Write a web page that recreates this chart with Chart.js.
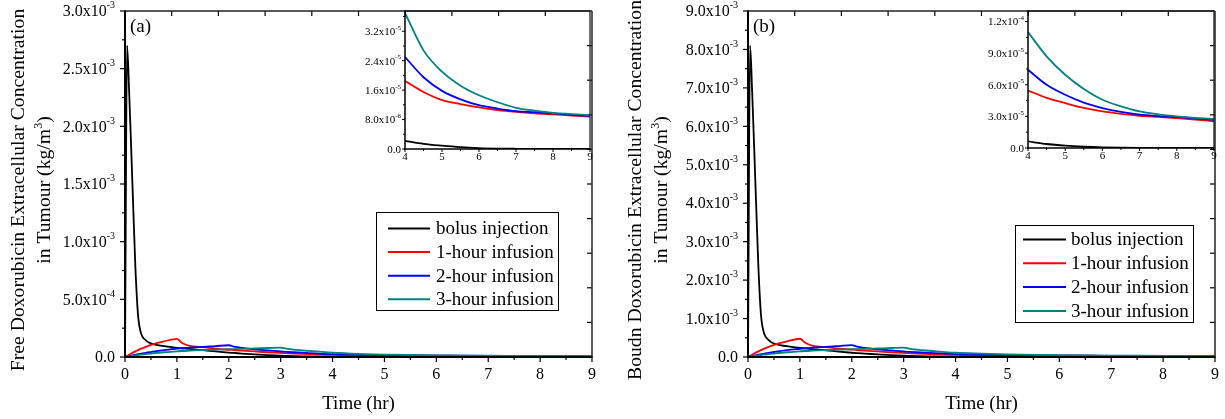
<!DOCTYPE html>
<html>
<head>
<meta charset="utf-8">
<script src="https://cdn.jsdelivr.net/npm/chart.js@4.4.1/dist/chart.umd.min.js"></script>
<style>
  body { margin: 0; background: #fff; }
  #wrap { position: relative; width: 1225px; height: 419px; overflow: hidden; background: #fff; }
  canvas { position: absolute; top: 0; }
</style>
</head>
<body>
<div id="wrap">
  <canvas id="mainA" width="612" height="419" style="left:0px"></canvas>
  <canvas id="mainB" width="613" height="419" style="left:612px"></canvas>
  <canvas id="insetA" width="250" height="170" style="left:350px"></canvas>
  <canvas id="insetB" width="250" height="170" style="left:973px"></canvas>
</div>
<script>
// time axis (hr), shared by every series
const timeHr = [0, 0.04, 0.08, 0.12, 0.16, 0.2, 0.25, 0.3, 0.4, 0.5, 0.75, 1, 1.1, 1.25, 1.5, 1.75,
  2, 2.1, 2.25, 2.5, 2.75, 3, 3.1, 3.25, 3.5, 4, 4.5, 5, 5.5, 6, 6.5, 7, 7.5, 8, 8.5, 9];

const seriesNames = ['bolus injection', '1-hour infusion', '2-hour infusion', '3-hour infusion'];
const seriesColors = ['#000000', '#ff0000', '#0000ff', '#008080'];

// (a) free doxorubicin, kg/m^3
const freeBolus = [0, 2.70e-3, 2.30e-3, 1.80e-3, 1.28e-3, 0.78e-3, 0.37e-3, 0.22e-3, 0.145e-3, 0.118e-3, 0.095e-3,
  0.08e-3, 0.076e-3, 0.07e-3, 0.06e-3, 0.048e-3, 0.038e-3, 0.035e-3, 0.03e-3, 0.023e-3, 0.016e-3,
  0.011e-3, 9.5e-6, 7.5e-6, 5e-6, 2.2e-6, 1.4e-6, 0.9e-6, 0.5e-6, 0.25e-6, 0.12e-6, 0.06e-6, 0.03e-6, 0.015e-6, 0.008e-6, 0.004e-6];
const free1h = [0, 0.10e-4, 0.20e-4, 0.30e-4, 0.40e-4, 0.49e-4, 0.60e-4, 0.70e-4, 0.88e-4, 1.05e-4, 1.35e-4,
  1.58e-4, 1.22e-4, 0.96e-4, 0.85e-4, 0.73e-4, 0.63e-4, 0.60e-4, 0.55e-4, 0.48e-4, 0.41e-4,
  0.35e-4, 0.33e-4, 0.30e-4, 0.26e-4, 0.185e-4, 0.155e-4, 0.133e-4, 0.122e-4, 0.113e-4, 0.106e-4, 0.101e-4, 0.097e-4, 0.094e-4, 0.091e-4, 0.088e-4];
const free2h = [0, 0.04e-4, 0.08e-4, 0.12e-4, 0.16e-4, 0.20e-4, 0.24e-4, 0.28e-4, 0.36e-4, 0.43e-4, 0.60e-4,
  0.72e-4, 0.76e-4, 0.82e-4, 0.87e-4, 0.95e-4, 1.02e-4, 0.90e-4, 0.79e-4, 0.67e-4, 0.57e-4,
  0.48e-4, 0.45e-4, 0.41e-4, 0.35e-4, 0.25e-4, 0.195e-4, 0.158e-4, 0.135e-4, 0.119e-4, 0.110e-4, 0.103e-4, 0.100e-4, 0.097e-4, 0.093e-4, 0.090e-4];
const free3h = [0, 0.03e-4, 0.06e-4, 0.09e-4, 0.12e-4, 0.14e-4, 0.17e-4, 0.20e-4, 0.25e-4, 0.30e-4, 0.41e-4,
  0.49e-4, 0.52e-4, 0.55e-4, 0.60e-4, 0.64e-4, 0.67e-4, 0.68e-4, 0.70e-4, 0.74e-4, 0.78e-4,
  0.82e-4, 0.72e-4, 0.64e-4, 0.54e-4, 0.37e-4, 0.268e-4, 0.21e-4, 0.172e-4, 0.146e-4, 0.127e-4, 0.112e-4, 0.104e-4, 0.098e-4, 0.095e-4, 0.092e-4];

// (b) bound doxorubicin, kg/m^3
const boundBolus = [0, 8.10e-3, 6.90e-3, 5.40e-3, 3.85e-3, 2.35e-3, 1.10e-3, 0.66e-3, 0.44e-3, 0.35e-3, 0.28e-3,
  0.235e-3, 0.225e-3, 0.205e-3, 0.175e-3, 0.14e-3, 0.11e-3, 0.10e-3, 0.088e-3, 0.068e-3, 0.048e-3,
  0.033e-3, 0.028e-3, 0.022e-3, 0.015e-3, 6.3e-6, 3.8e-6, 2.2e-6, 1.2e-6, 0.6e-6, 0.3e-6, 0.15e-6, 0.08e-6, 0.04e-6, 0.02e-6, 0.01e-6];
const bound1h = [0, 0.03e-3, 0.06e-3, 0.09e-3, 0.12e-3, 0.145e-3, 0.18e-3, 0.21e-3, 0.265e-3, 0.315e-3, 0.405e-3,
  0.475e-3, 0.37e-3, 0.29e-3, 0.255e-3, 0.22e-3, 0.19e-3, 0.18e-3, 0.165e-3, 0.145e-3, 0.124e-3,
  0.105e-3, 0.099e-3, 0.09e-3, 0.078e-3, 5.46e-5, 4.75e-5, 4.26e-5, 3.8e-5, 3.47e-5, 3.24e-5, 3.06e-5, 2.95e-5, 2.84e-5, 2.7e-5, 2.53e-5];
const bound2h = [0, 0.012e-3, 0.024e-3, 0.036e-3, 0.048e-3, 0.06e-3, 0.072e-3, 0.084e-3, 0.108e-3, 0.13e-3, 0.18e-3,
  0.215e-3, 0.228e-3, 0.245e-3, 0.262e-3, 0.285e-3, 0.31e-3, 0.27e-3, 0.237e-3, 0.20e-3, 0.17e-3,
  0.145e-3, 0.135e-3, 0.123e-3, 0.105e-3, 7.42e-5, 6.0e-5, 5.05e-5, 4.3e-5, 3.79e-5, 3.42e-5, 3.16e-5, 3.03e-5, 2.94e-5, 2.8e-5, 2.68e-5];
const bound3h = [0, 0.009e-3, 0.018e-3, 0.027e-3, 0.036e-3, 0.042e-3, 0.051e-3, 0.06e-3, 0.075e-3, 0.09e-3, 0.123e-3,
  0.147e-3, 0.156e-3, 0.165e-3, 0.18e-3, 0.192e-3, 0.201e-3, 0.204e-3, 0.21e-3, 0.222e-3, 0.234e-3,
  0.245e-3, 0.216e-3, 0.192e-3, 0.163e-3, 1.10e-4, 8.7e-5, 6.95e-5, 5.6e-5, 4.58e-5, 3.95e-5, 3.47e-5, 3.2e-5, 3.0e-5, 2.85e-5, 2.75e-5];

// ticks
const xTicks = [0, 1, 2, 3, 4, 5, 6, 7, 8, 9];
const yTicksFree = [0, 5e-4, 1e-3, 1.5e-3, 2e-3, 2.5e-3, 3e-3];
const yTicksBound = [0, 1e-3, 2e-3, 3e-3, 4e-3, 5e-3, 6e-3, 7e-3, 8e-3, 9e-3];
const insetXTicks = [4, 5, 6, 7, 8, 9];
const insetYTicksFree = [0, 8e-6, 1.6e-5, 2.4e-5, 3.2e-5];
const insetYTicksBound = [0, 3e-5, 6e-5, 9e-5, 1.2e-4];

const SERIF = '"Liberation Serif", "Times New Roman", serif';

function sciParts(v) {
  if (v === 0) return ['0.0', ''];
  const e = Math.floor(Math.log10(v) + 1e-9);
  return [(v / Math.pow(10, e)).toFixed(1) + 'x10', String(e)];
}

function drawSci(ctx, v, xr, y, size, sup) {
  const [base, exp] = sciParts(v);
  ctx.font = `${sup}px ${SERIF}`;
  const ew = exp ? ctx.measureText(exp).width : 0;
  ctx.font = `${size}px ${SERIF}`;
  ctx.textAlign = 'right';
  ctx.textBaseline = 'middle';
  ctx.fillText(base, xr - ew, y);
  if (exp) {
    ctx.font = `${sup}px ${SERIF}`;
    ctx.textAlign = 'left';
    ctx.fillText(exp, xr - ew, y - size * 0.4);
  }
}

// parts: [[text, isSuperscript], ...], centred on x, alphabetic baseline at y
function drawRich(ctx, parts, x, y, size) {
  const supSize = size * 0.62;
  let total = 0;
  parts.forEach(([t, s]) => { ctx.font = `${s ? supSize : size}px ${SERIF}`; total += ctx.measureText(t).width; });
  let cx = x - total / 2;
  ctx.textAlign = 'left';
  ctx.textBaseline = 'alphabetic';
  parts.forEach(([t, s]) => {
    ctx.font = `${s ? supSize : size}px ${SERIF}`;
    ctx.fillText(t, cx, s ? y - size * 0.42 : y);
    cx += ctx.measureText(t).width;
  });
}

function minorOf(ticks, max) {
  const step = ticks[1] - ticks[0];
  return ticks.map((v) => v + step / 2).filter((v) => v <= max + 1e-12);
}

const axesPlugin = {
  id: 'axes',
  afterDraw(chart, _args, o) {
    const { ctx, chartArea: a } = chart;
    const sx = chart.scales.x, sy = chart.scales.y;
    const seg = (x1, y1, x2, y2) => { ctx.beginPath(); ctx.moveTo(x1, y1); ctx.lineTo(x2, y2); ctx.stroke(); };
    ctx.save();
    ctx.strokeStyle = '#000';
    ctx.fillStyle = '#000';
    ctx.lineWidth = o.tickWidth;

    o.xTicks.forEach((v) => { const p = sx.getPixelForValue(v); seg(p, a.bottom, p, a.bottom + o.major); });
    minorOf(o.xTicks, sx.max).forEach((v) => { const p = sx.getPixelForValue(v); seg(p, a.bottom, p, a.bottom + o.minor); });
    o.yTicks.forEach((v) => { const p = sy.getPixelForValue(v); seg(a.left, p, a.left - o.major, p); });
    minorOf(o.yTicks, sy.max).forEach((v) => { const p = sy.getPixelForValue(v); seg(a.left, p, a.left - o.minor, p); });

    if (o.boxTicks) {
      for (let i = 1; i < 10; i++) {
        const px = sx.getPixelForValue(sx.min + (sx.max - sx.min) * i / 10);
        seg(px, a.top, px, a.top + o.major);
        const py = sy.getPixelForValue(sy.max * i / 10);
        seg(a.right, py, a.right - o.major, py);
      }
    }

    ctx.lineWidth = o.boxWidth;
    ctx.strokeStyle = '#222';
    seg(a.left, a.top, a.right, a.top);
    seg(a.right, a.top, a.right, a.bottom);
    ctx.strokeStyle = '#000';
    ctx.lineWidth = o.axisWidth;
    seg(a.left, a.top - 0.5, a.left, a.bottom + 1);
    seg(a.left - 1, a.bottom, a.right + 0.5, a.bottom);

    ctx.font = `${o.font}px ${SERIF}`;
    ctx.textAlign = 'center';
    ctx.textBaseline = 'middle';
    o.xTicks.forEach((v) => ctx.fillText(String(v), sx.getPixelForValue(v), a.bottom + o.xLabelGap));
    o.yTicks.forEach((v) => drawSci(ctx, v, a.left - o.yLabelGap, sy.getPixelForValue(v) + 1, o.font, o.supFont));

    if (o.xTitle) {
      ctx.font = `${o.titleFont}px ${SERIF}`;
      ctx.textAlign = 'center';
      ctx.textBaseline = 'middle';
      ctx.fillText(o.xTitle, (a.left + a.right) / 2, o.xTitleY);
    }

    if (o.yTitle) {
      o.yTitle.forEach((parts, i) => {
        ctx.save();
        ctx.translate(o.yTitleX[i], o.yTitleCY);
        ctx.rotate(-Math.PI / 2);
        drawRich(ctx, parts, 0, 0, o.yTitleFont);
        ctx.restore();
      });
    }

    if (o.letter) {
      ctx.font = `${o.titleFont}px ${SERIF}`;
      ctx.textAlign = 'left';
      ctx.textBaseline = 'middle';
      ctx.fillText(o.letter, a.left + 5, a.top + 16);
    }

    const lg = o.legend;
    if (lg) {
      ctx.lineWidth = 1;
      ctx.strokeStyle = '#000';
      ctx.strokeRect(lg.x + 0.5, lg.y + 0.5, lg.w, lg.h);
      ctx.font = `${lg.font}px ${SERIF}`;
      ctx.textAlign = 'left';
      ctx.textBaseline = 'middle';
      chart.data.datasets.forEach((ds, i) => {
        const ry = lg.y + lg.row0 + i * lg.gap;
        ctx.strokeStyle = ds.borderColor;
        ctx.lineWidth = 2;
        seg(lg.x + lg.lineX0, ry, lg.x + lg.lineX1, ry);
        ctx.fillStyle = '#000';
        ctx.fillText(ds.label, lg.x + lg.textX, ry + 1);
      });
    }
    ctx.restore();
  },
};

function makeSets(list, fromT) {
  return list.map((vals, i) => ({
    label: seriesNames[i],
    borderColor: seriesColors[i],
    backgroundColor: seriesColors[i],
    order: list.length - i,
    data: timeHr.map((t, k) => ({ x: t, y: vals[k] })).filter((p) => p.x >= fromT),
  }));
}

function lineChart(id, sets, xMin, xMax, yMax, pad, axes) {
  return new Chart(document.getElementById(id), {
    type: 'line',
    data: { datasets: sets },
    options: {
      responsive: false,
      animation: false,
      devicePixelRatio: 1,
      events: [],
      layout: { padding: pad },
      elements: { point: { radius: 0 }, line: { borderWidth: 1.8, cubicInterpolationMode: 'monotone' } },
      plugins: { legend: { display: false }, tooltip: { enabled: false }, axes },
      scales: {
        x: { type: 'linear', min: xMin, max: xMax, display: false },
        y: { type: 'linear', min: 0, max: yMax, display: false },
      },
    },
    plugins: [axesPlugin],
  });
}

const mainAxes = {
  xTicks, major: 5, minor: 3, tickWidth: 1.2, boxWidth: 1.5, axisWidth: 2, boxTicks: true,
  font: 16, supFont: 10, xLabelGap: 18, yLabelGap: 10, titleFont: 19,
  xTitle: 'Time (hr)', xTitleY: 404, yTitleCY: 190, yTitleFont: 19.7,
};
const tumourLine = [['in Tumour (kg/m', false], ['3', true], [')', false]];

lineChart('mainA', makeSets([freeBolus, free1h, free2h, free3h], 0), 0, 9, 3e-3,
  { left: 125, right: 20, top: 11, bottom: 62 },
  { ...mainAxes, yTicks: yTicksFree, letter: '(a)', yTitleX: [24, 50],
    yTitle: [[['Free Doxorubicin Extracellular Concentration', false]], tumourLine],
    legend: { x: 376, y: 212, w: 182, h: 98, row0: 16.5, gap: 23.6, lineX0: 12, lineX1: 54, textX: 60, font: 19 } });

lineChart('mainB', makeSets([boundBolus, bound1h, bound2h, bound3h], 0), 0, 9, 9e-3,
  { left: 136, right: 10, top: 11, bottom: 62 },
  { ...mainAxes, yTicks: yTicksBound, letter: '(b)', yTitleX: [29, 55],
    yTitle: [[['Boudn Doxorubicin Extracellular Concentration', false]], tumourLine],
    legend: { x: 403, y: 225, w: 178, h: 97, row0: 14.5, gap: 23.8, lineX0: 8, lineX1: 51, textX: 56, font: 19 } });

const insetAxes = {
  xTicks: insetXTicks, major: 3, minor: 2, tickWidth: 1, boxWidth: 1.3, axisWidth: 1.5, boxTicks: false,
  font: 11, supFont: 7, xLabelGap: 8, yLabelGap: 4,
};

lineChart('insetA', makeSets([freeBolus, free1h, free2h, free3h], 4), 4, 9, 3.75e-5,
  { left: 55, right: 10, top: 11, bottom: 21 },
  { ...insetAxes, yTicks: insetYTicksFree });

lineChart('insetB', makeSets([boundBolus, bound1h, bound2h, bound3h], 4), 4, 9, 1.3e-4,
  { left: 55, right: 9, top: 11, bottom: 22 },
  { ...insetAxes, yTicks: insetYTicksBound });
</script>
</body>
</html>
